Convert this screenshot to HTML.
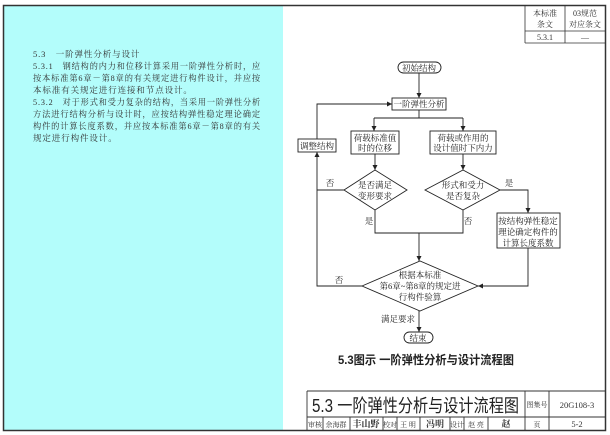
<!DOCTYPE html>
<html><head><meta charset="utf-8"><style>
html,body{margin:0;padding:0;background:#fff;}
svg{display:block;font-family:"Liberation Serif","Noto Serif CJK SC","Noto Sans CJK SC",serif;}
</style></head><body>
<svg width="610" height="435" viewBox="0 0 610 435" xmlns="http://www.w3.org/2000/svg">
<defs><marker id="a" markerWidth="6" markerHeight="6" refX="5" refY="3" orient="auto" markerUnits="userSpaceOnUse"><path d="M0,0.5 L5,3 L0,5.5 Z" fill="#222"/></marker></defs>
<rect x="4" y="6" width="279" height="424" fill="#b3fdfb"/>
<rect x="3.5" y="5.5" width="602" height="425" fill="none" stroke="#333" stroke-width="1.5"/>
<g font-size="8.5" fill="#333" letter-spacing="0.9">
<text x="33" y="57">5.3　一阶弹性分析与设计</text>
<text x="33" y="69" textLength="228" lengthAdjust="spacingAndGlyphs">5.3.1　钢结构的内力和位移计算采用一阶弹性分析时，应</text>
<text x="33" y="81" textLength="228" lengthAdjust="spacingAndGlyphs">按本标准第6章－第8章的有关规定进行构件设计，并应按</text>
<text x="33" y="93">本标准有关规定进行连接和节点设计。</text>
<text x="33" y="105" textLength="228" lengthAdjust="spacingAndGlyphs">5.3.2　对于形式和受力复杂的结构，当采用一阶弹性分析</text>
<text x="33" y="117" textLength="228" lengthAdjust="spacingAndGlyphs">方法进行结构分析与设计时，应按结构弹性稳定理论确定</text>
<text x="33" y="129" textLength="228" lengthAdjust="spacingAndGlyphs">构件的计算长度系数，并应按本标准第6章－第8章的有关</text>
<text x="33" y="141">规定进行构件设计。</text>
</g>
<g stroke="#333" stroke-width="0.8" fill="none">
<line x1="525" y1="6" x2="525" y2="43"/><line x1="565" y1="6" x2="565" y2="43"/>
<line x1="525" y1="31" x2="605" y2="31"/><line x1="525" y1="43" x2="605" y2="43"/>
</g>
<g font-size="8" fill="#333" text-anchor="middle">
<text x="545" y="16">本标准</text><text x="545" y="27">条文</text>
<text x="585" y="16">03规范</text><text x="585" y="27">对应条文</text>
<text x="545" y="40">5.3.1</text><text x="585" y="40">—</text>
</g>
<g stroke="#222" stroke-width="0.9" fill="#fff">
<rect x="398" y="62" width="43" height="11" rx="5.5"/>
<rect x="392" y="98" width="54" height="12"/>
<rect x="351" y="131" width="48" height="23"/>
<rect x="430" y="131" width="66" height="23"/>
<rect x="298" y="139" width="38" height="13"/>
<polygon points="344,190 375,170 407,190 375,210"/>
<polygon points="425,190 463,170 500,190 463,210"/>
<rect x="497" y="213" width="63" height="35"/>
<polygon points="362,286 420,261 478,286 420,311"/>
<rect x="404" y="332" width="29" height="11" rx="5.5"/>
</g>
<g stroke="#222" stroke-width="0.9" fill="none">
<line x1="419" y1="73" x2="419" y2="98" marker-end="url(#a)"/>
<line x1="419" y1="110" x2="419" y2="118"/>
<line x1="374" y1="118" x2="463" y2="118"/>
<line x1="374" y1="118" x2="374" y2="131" marker-end="url(#a)"/>
<line x1="463" y1="118" x2="463" y2="131" marker-end="url(#a)"/>
<line x1="375" y1="154" x2="375" y2="170" marker-end="url(#a)"/>
<line x1="463" y1="154" x2="463" y2="170" marker-end="url(#a)"/>
<polyline points="317,139 317,104 392,104" marker-end="url(#a)"/>
<line x1="344" y1="190" x2="317" y2="190"/>
<polyline points="362,286 317,286 317,152" marker-end="url(#a)"/>
<polyline points="500,190 528,190 528,213" marker-end="url(#a)"/>
<polyline points="375,210 375,233 463,233 463,210"/>
<line x1="419" y1="233" x2="419" y2="261" marker-end="url(#a)"/>
<polyline points="528,248 528,286 478,286" marker-end="url(#a)"/>
<line x1="419" y1="311" x2="419" y2="332" marker-end="url(#a)"/>
</g>
<g font-size="8.5" fill="#222" text-anchor="middle">
<text x="419" y="71">初始结构</text>
<text x="419" y="107">一阶弹性分析</text>
<text x="375" y="141">荷载标准值</text><text x="375" y="151">时的位移</text>
<text x="463" y="141">荷载或作用的</text><text x="463" y="151">设计值时下内力</text>
<text x="317" y="149">调整结构</text>
<text x="375" y="188">是否满足</text><text x="375" y="199">变形要求</text>
<text x="463" y="188">形式和受力</text><text x="463" y="199">是否复杂</text>
<text x="528" y="224">按结构弹性稳定</text><text x="528" y="235">理论确定构件的</text><text x="528" y="246">计算长度系数</text>
<text x="420" y="278">根据本标准</text><text x="420" y="289">第6章~第8章的规定进</text><text x="420" y="300">行构件验算</text>
<text x="418" y="341">结束</text>
<text x="330" y="186">否</text><text x="509" y="186">是</text>
<text x="369" y="224">是</text><text x="468" y="224">否</text>
<text x="339" y="283">否</text>
<text x="398" y="322">满足要求</text>
</g>
<text x="338" y="364" textLength="176" lengthAdjust="spacingAndGlyphs" font-size="12" font-weight="bold" fill="#222" font-family="Liberation Sans,Noto Sans CJK SC,sans-serif">5.3图示 一阶弹性分析与设计流程图</text>
<g stroke="#333" stroke-width="0.9" fill="none">
<line x1="307" y1="391" x2="605" y2="391"/>
<line x1="307" y1="417" x2="605" y2="417"/>
<line x1="307" y1="391" x2="307" y2="430"/>
<line x1="525" y1="391" x2="525" y2="430"/>
<line x1="549" y1="391" x2="549" y2="430"/>
<line x1="323" y1="417" x2="323" y2="430"/><line x1="350" y1="417" x2="350" y2="430"/>
<line x1="383" y1="417" x2="383" y2="430"/><line x1="397" y1="417" x2="397" y2="430"/>
<line x1="420" y1="417" x2="420" y2="430"/><line x1="450" y1="417" x2="450" y2="430"/>
<line x1="464" y1="417" x2="464" y2="430"/><line x1="488" y1="417" x2="488" y2="430"/>
</g>
<text x="312" y="412" textLength="207" lengthAdjust="spacingAndGlyphs" font-size="18" fill="#222" font-family="Liberation Sans,Noto Sans CJK SC,sans-serif">5.3 一阶弹性分析与设计流程图</text>
<g font-size="7" fill="#333" text-anchor="middle">
<text x="537" y="407">图集号</text><text x="577" y="408" font-size="8.5">20G108-3</text>
<text x="537" y="427">页</text><text x="577" y="427" font-size="8.5">5-2</text>
<text x="315" y="427">审核</text><text x="336" y="427">余海群</text>
<text x="366" y="427" font-size="9" font-weight="bold">丰山野</text>
<text x="390" y="427">校对</text><text x="408" y="427">王 明</text>
<text x="435" y="427" font-size="9" font-weight="bold">冯明</text>
<text x="457" y="427">设计</text><text x="476" y="427">赵 亮</text>
<text x="506" y="427" font-size="9" font-weight="bold">赵</text>
</g>
</svg>
</body></html>
